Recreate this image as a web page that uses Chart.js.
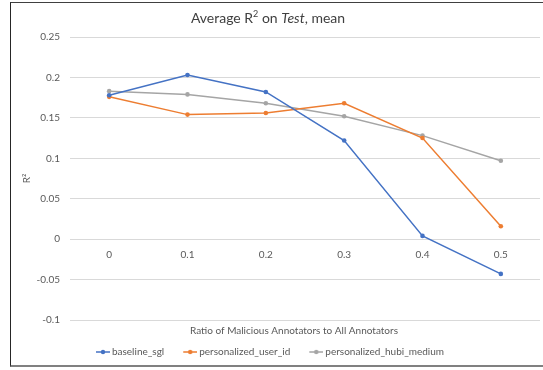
<!DOCTYPE html>
<html>
<head>
<meta charset="utf-8">
<script src="https://cdn.jsdelivr.net/npm/chart.js@4.4.1/dist/chart.umd.min.js"></script>
<style>
  html, body { margin: 0; padding: 0; background: #fff; overflow: hidden; }
  #frame {
    position: absolute; left: 10px; top: 2px; width: 560px; height: 362px;
    border-left: 1px solid #262626; border-top: 1px solid #404040; border-bottom: 2px solid #808080;
  }
  #chart { position: absolute; left: 0; top: 0; }
</style>
</head>
<body>
<div id="frame"></div>
<canvas id="chart" width="543" height="370"></canvas>
<script>
const categories = ['0', '0.1', '0.2', '0.3', '0.4', '0.5'];
const baselineSgl = [0.178, 0.203, 0.182, 0.122, 0.004, -0.043];
const personalizedUserId = [0.176, 0.154, 0.156, 0.168, 0.125, 0.016];
const personalizedHubiMedium = [0.183, 0.179, 0.168, 0.152, 0.128, 0.097];
const yMin = -0.1, yMax = 0.25, yStep = 0.05;

const textColor = '#595959';
const fontFamily = 'Lato, "Liberation Sans", sans-serif';

// small line-with-dot marker for the legend
function legendMarker(color) {
    const c = document.createElement('canvas');
    c.width = 17; c.height = 8;
    const g = c.getContext('2d');
    g.strokeStyle = color; g.lineWidth = 1.5;
    g.beginPath(); g.moveTo(3, 4); g.lineTo(17, 4); g.stroke();
    g.fillStyle = color;
    g.beginPath(); g.arc(10, 4, 2.2, 0, Math.PI * 2); g.fill();
    return c;
}

// title with superscript and italic parts, plus the x axis title
const titlesPlugin = {
    id: 'titles',
    afterDraw(chart) {
        const ctx = chart.ctx;
        ctx.save();
        ctx.fillStyle = '#404040';
        ctx.textBaseline = 'middle';
        const big = '14px ' + fontFamily, small = '9px ' + fontFamily, ital = 'italic 14px ' + fontFamily;
        const parts = [['Average R', big, 0], ['2', small, -4], [' on ', big, 0], ['Test', ital, 0], [', mean', big, 0]];
        let total = 0;
        parts.forEach(p => { ctx.font = p[1]; total += ctx.measureText(p[0]).width; });
        let x = 268 - total / 2;
        parts.forEach(p => {
            ctx.font = p[1];
            ctx.fillText(p[0], x, 18 + p[2]);
            x += ctx.measureText(p[0]).width;
        });
        ctx.fillStyle = textColor;
        ctx.font = '10px ' + fontFamily;
        ctx.textAlign = 'center';
        ctx.fillText('Ratio of Malicious Annotators to All Annotators', 294, 331);
        ctx.restore();
    }
};

const ctx = document.getElementById('chart').getContext('2d');

const datasets = [
    { label: 'baseline_sgl', data: baselineSgl, color: '#4472C4' },
    { label: 'personalized_user_id', data: personalizedUserId, color: '#ED7D31' },
    { label: 'personalized_hubi_medium', data: personalizedHubiMedium, color: '#A5A5A5' }
].map(d => ({
    label: d.label,
    data: d.data,
    borderColor: d.color,
    backgroundColor: d.color,
    borderWidth: 1.5,
    pointRadius: 2.3,
    pointBorderWidth: 0,
    pointHoverRadius: 3,
    tension: 0,
    marker: legendMarker(d.color)
}));

const myChart = new Chart(ctx, {
    type: 'line',
    data: { labels: categories, datasets: datasets },
    options: {
        responsive: false,
        animation: false,
        layout: { padding: { left: 0, right: 3, top: 37, bottom: 3 } },
        plugins: {
            title: { display: false },
            tooltip: { enabled: false },
            legend: {
                position: 'bottom',
                labels: {
                    usePointStyle: true,
                    pointStyleWidth: 11,
                    padding: 19,
                    color: textColor,
                    font: { size: 10, family: fontFamily },
                    generateLabels: function(chart) {
                        return chart.data.datasets.map((ds, i) => ({
                            text: ds.label,
                            pointStyle: ds.marker,
                            fillStyle: ds.borderColor,
                            strokeStyle: ds.borderColor,
                            lineWidth: 0,
                            fontColor: textColor,
                            hidden: false,
                            datasetIndex: i
                        }));
                    }
                }
            }
        },
        scales: {
            x: {
                type: 'category',
                position: { y: 0 },
                offset: true,
                grid: { display: false },
                border: { display: false },
                ticks: { color: textColor, font: { size: 10, family: fontFamily }, padding: 2 }
            },
            xb: {
                type: 'category',
                position: 'bottom',
                grid: { display: false },
                border: { display: false },
                ticks: { display: false },
                afterFit: function(scale) { scale.height = 8; }
            },
            y: {
                min: yMin,
                max: yMax,
                grid: { color: '#D9D9D9', lineWidth: 1, drawTicks: false },
                border: { display: false },
                ticks: {
                    stepSize: yStep,
                    padding: 10,
                    color: textColor,
                    font: { size: 10, family: fontFamily },
                    callback: v => String(Math.round(v * 100) / 100)
                },
                title: {
                    display: true,
                    text: 'R²',
                    color: textColor,
                    font: { size: 10, family: fontFamily },
                    padding: { top: 21, bottom: 0 }
                },
                afterFit: function(scale) { scale.width = 70; }
            }
        }
    },
    plugins: [titlesPlugin]
});
</script>
</body>
</html>
